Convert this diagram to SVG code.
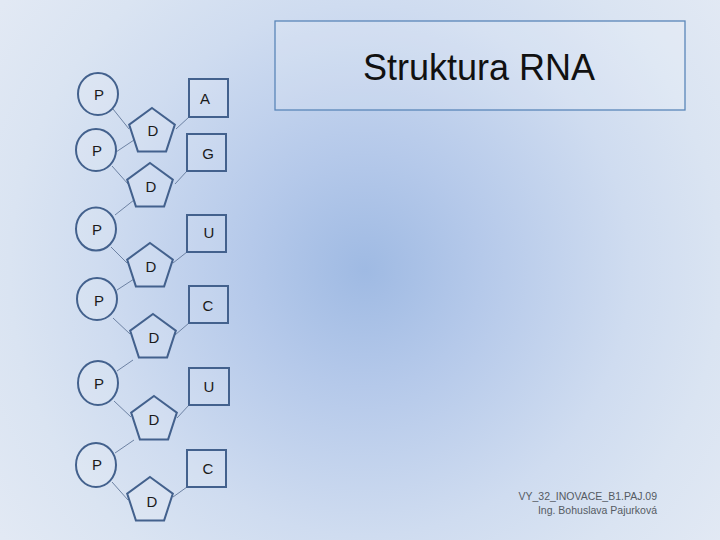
<svg xmlns="http://www.w3.org/2000/svg" width="720" height="540" viewBox="0 0 720 540">
<defs>
<radialGradient id="bg" gradientUnits="userSpaceOnUse" cx="365" cy="270" r="450">
<stop offset="0" stop-color="#9fbae3"/>
<stop offset="0.26" stop-color="#b5c9ea"/>
<stop offset="0.59" stop-color="#cfdcf0"/>
<stop offset="0.79" stop-color="#dae4f2"/>
<stop offset="1" stop-color="#e2e9f4"/>
</radialGradient>
<polygon id="pent" points="0,-24 22.83,-7.42 14.11,19.42 -14.11,19.42 -22.83,-7.42"/>
</defs>
<style>
.shape{fill:#ffffff;fill-opacity:0.12;stroke:#43618d;stroke-width:2}
.lbl{font-family:"Liberation Sans",Arial,sans-serif;font-size:15px;fill:#1a1a1a;text-anchor:middle}
.conn line{stroke:#6d82a3;stroke-width:1}
.title{font-family:"Liberation Sans",Arial,sans-serif;font-size:36px;fill:#111111;text-anchor:middle}
.foot{font-family:"Liberation Sans",Arial,sans-serif;font-size:10.5px;fill:#555b63;text-anchor:end}
</style>
<rect x="0" y="0" width="720" height="540" fill="url(#bg)"/>

<g id="title">
<rect x="275" y="21" width="410" height="89" fill="#ffffff" fill-opacity="0.15" stroke="#5a86b8" stroke-width="1.3"/>
<text class="title" x="479" y="80">Struktura RNA</text>
</g>

<g id="connectors" class="conn">
<line x1="113" y1="109" x2="129" y2="129"/>
<line x1="176" y1="129" x2="189" y2="117"/>
<line x1="134" y1="140" x2="116" y2="152"/>
<line x1="112" y1="166" x2="128" y2="184"/>
<line x1="175" y1="184" x2="187" y2="171"/>
<line x1="134" y1="200" x2="115" y2="215"/>
<line x1="111" y1="247" x2="127" y2="263"/>
<line x1="173" y1="263" x2="187" y2="252"/>
<line x1="134" y1="279" x2="117" y2="290"/>
<line x1="113" y1="318" x2="130" y2="334"/>
<line x1="175" y1="335" x2="189" y2="323"/>
<line x1="133" y1="360" x2="117" y2="371"/>
<line x1="114" y1="401" x2="131" y2="417"/>
<line x1="177" y1="418" x2="189" y2="405"/>
<line x1="134" y1="440" x2="115" y2="453"/>
<line x1="112" y1="482" x2="128" y2="500"/>
<line x1="173" y1="497" x2="187" y2="487"/>
</g>

<g id="P1"><ellipse class="shape" cx="98" cy="94" rx="20" ry="21"/><text class="lbl" x="99" y="100">P</text></g>
<g id="P2"><ellipse class="shape" cx="96" cy="150" rx="20" ry="21"/><text class="lbl" x="97" y="156">P</text></g>
<g id="P3"><ellipse class="shape" cx="96" cy="229" rx="20" ry="21.5"/><text class="lbl" x="97" y="235">P</text></g>
<g id="P4"><ellipse class="shape" cx="97" cy="299" rx="20" ry="21"/><text class="lbl" x="99" y="306">P</text></g>
<g id="P5"><ellipse class="shape" cx="98" cy="383" rx="20" ry="22"/><text class="lbl" x="99" y="389">P</text></g>
<g id="P6"><ellipse class="shape" cx="96" cy="465" rx="20" ry="22"/><text class="lbl" x="97" y="470">P</text></g>

<g id="D1"><use href="#pent" class="shape" x="152" y="132"/><text class="lbl" x="153" y="136">D</text></g>
<g id="D2"><use href="#pent" class="shape" x="150" y="187"/><text class="lbl" x="151" y="192">D</text></g>
<g id="D3"><use href="#pent" class="shape" x="150" y="267"/><text class="lbl" x="151" y="272">D</text></g>
<g id="D4"><use href="#pent" class="shape" x="153" y="338"/><text class="lbl" x="154" y="343">D</text></g>
<g id="D5"><use href="#pent" class="shape" x="154" y="420"/><text class="lbl" x="154" y="425">D</text></g>
<g id="D6"><use href="#pent" class="shape" x="150" y="501"/><text class="lbl" x="152" y="507">D</text></g>

<g id="B1"><rect class="shape" x="189" y="79" width="39" height="38"/><text class="lbl" x="205" y="104">A</text></g>
<g id="B2"><rect class="shape" x="187" y="134" width="39" height="37"/><text class="lbl" x="208" y="159">G</text></g>
<g id="B3"><rect class="shape" x="187" y="215" width="39" height="37"/><text class="lbl" x="209" y="238">U</text></g>
<g id="B4"><rect class="shape" x="189" y="286" width="39" height="37"/><text class="lbl" x="208" y="311">C</text></g>
<g id="B5"><rect class="shape" x="189" y="368" width="40" height="37"/><text class="lbl" x="209" y="392">U</text></g>
<g id="B6"><rect class="shape" x="187" y="450" width="39" height="37"/><text class="lbl" x="208" y="474">C</text></g>

<g id="footer">
<text class="foot" x="657" y="500">VY_32_INOVACE_B1.PAJ.09</text>
<text class="foot" x="657" y="514">Ing. Bohuslava Pajurková</text>
</g>
</svg>
